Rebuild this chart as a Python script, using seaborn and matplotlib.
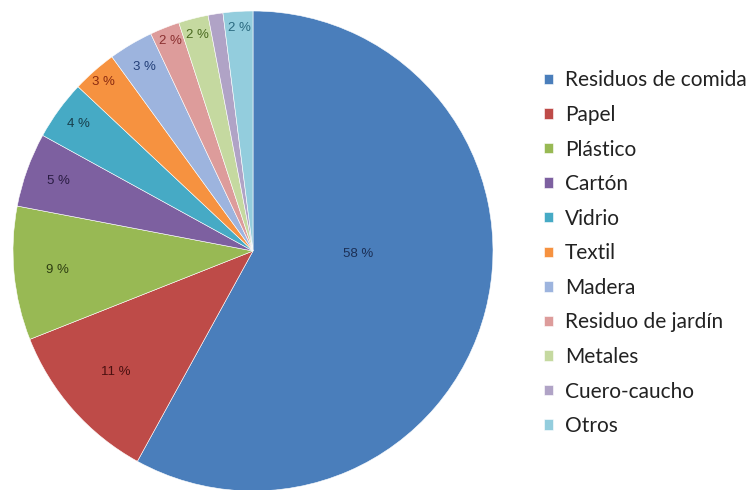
import numpy as np
import matplotlib
matplotlib.use('Agg')
import matplotlib.pyplot as plt
import seaborn as sns

# composition of waste (%), clockwise from 12 o'clock
categorias = ['Residuos de comida', 'Papel', 'Plástico', 'Cartón', 'Vidrio', 'Textil',
              'Madera', 'Residuo de jardín', 'Metales', 'Cuero-caucho', 'Otros']
porcentajes = [58, 11, 9, 5, 4, 3, 3, 2, 2, 1, 2]
etiquetas = ['58 %', '11 %', '9 %', '5 %', '4 %', '3 %', '3 %', '2 %', '2 %', '', '2 %']

colores = ['#4A7EBB', '#BE4B48', '#98B954', '#7D60A0', '#46AAC5', '#F69240',
           '#9DB4DE', '#DD9C9B', '#C5D9A0', '#B0A3C6', '#93CDDD']
colores_txt = ['#1B2F55', '#4A1010', '#2E3E12', '#2A1C42', '#173F4C', '#8A2A10',
               '#233F78', '#8B3030', '#4A6A20', '#444466', '#2A6A80']
# label placement (fraction of radius, angular nudge in degrees)
dist_txt = [0.44, 0.76, 0.82, 0.86, 0.9, 0.94, 0.89, 0.94, 0.93, 0.93, 0.93]
giro_txt = [13, 0, 0, 0, 0, 0, 0, 0, 0, 0, 0]

sns.set_theme(style='white')
plt.rcParams['font.family'] = ['Liberation Sans', 'DejaVu Sans']

fig = plt.figure(figsize=(7.52, 4.9), dpi=100)
ax = fig.add_axes([13 / 752, -1 / 490, 480 / 752, 480 / 490])

wedges, _ = ax.pie(porcentajes, colors=sns.color_palette(colores), startangle=90,
                   counterclock=False, radius=1.0,
                   wedgeprops=dict(edgecolor='white', linewidth=0.4))
ax.set_xlim(-1, 1)
ax.set_ylim(-1, 1)
ax.set_aspect('equal')

for w, txt, c, d, g in zip(wedges, etiquetas, colores_txt, dist_txt, giro_txt):
    if not txt:
        continue
    ang = np.deg2rad((w.theta1 + w.theta2) / 2 + g)
    ax.text(d * np.cos(ang), d * np.sin(ang), txt, ha='center', va='center',
            fontsize=9.5, color=c)

leg = fig.legend(wedges, categorias, loc='upper left', bbox_to_anchor=(536 / 752, 1 - 62 / 490),
                 frameon=False, prop={'family': 'Lato', 'size': 15},
                 handlelength=0.4, handleheight=0.4, handletextpad=0.6,
                 labelspacing=0.70, labelcolor='#222222', borderaxespad=0)

fig.savefig('out.png', dpi=100)
